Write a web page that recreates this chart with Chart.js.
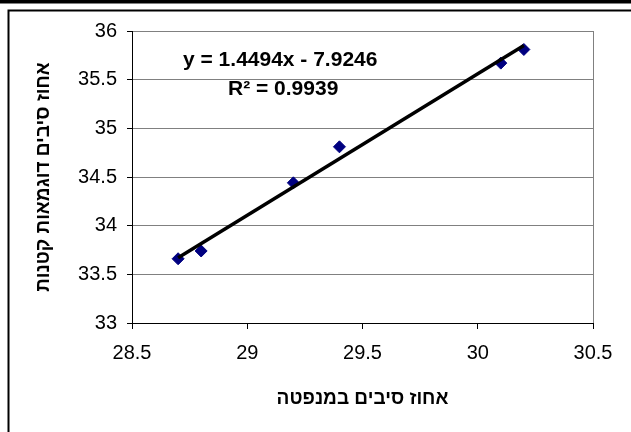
<!DOCTYPE html>
<html>
<head>
<meta charset="utf-8">
<script src="https://cdn.jsdelivr.net/npm/chart.js@4"></script>
<style>
  html, body { margin: 0; padding: 0; background: #fff; }
  canvas { display: block; }
</style>
</head>
<body>
<canvas id="fiberChart" width="631" height="432"></canvas>
<script>
// measured samples
const fiberLab = [28.7, 28.8, 29.2, 29.4, 30.1, 30.2];
const fiberSmall = [33.66, 33.74, 34.44, 34.81, 35.67, 35.81];

// trendline ends
const trendX = [28.7, 30.2];
const trendY = [33.67, 35.85];

const xTickLabels = ["28.5", "29", "29.5", "30", "30.5"];
const yTickLabels = ["33", "33.5", "34", "34.5", "35", "35.5", "36"];

const equationText = "y = 1.4494x - 7.9246";
const rSquaredText = "R² = 0.9939";
const xTitle = "אחוז סיבים במנפטה";
const yTitle = "אחוז סיבים דוגמאות קטנות";

const frame = {
    id: "frame",
    beforeDraw(chart) {
        const ctx = chart.ctx;
        ctx.save();
        ctx.fillStyle = "#fff";
        ctx.fillRect(0, 0, chart.width, chart.height);
        ctx.fillStyle = "#000";
        ctx.fillRect(0, 0, chart.width, 3.5);
        ctx.strokeStyle = "#000";
        ctx.lineWidth = 2;
        ctx.beginPath();
        ctx.moveTo(chart.width, 10.5);
        ctx.lineTo(8.5, 10.5);
        ctx.lineTo(8.5, chart.height);
        ctx.stroke();
        ctx.restore();
    },
    afterDatasetsDraw(chart) {
        const ctx = chart.ctx;
        const area = chart.chartArea;
        ctx.save();
        // right edge of plot area
        ctx.strokeStyle = "#808080";
        ctx.lineWidth = 1;
        ctx.beginPath();
        ctx.moveTo(area.right + 0.5, area.top);
        ctx.lineTo(area.right + 0.5, area.bottom);
        ctx.stroke();

        ctx.fillStyle = "#000";
        ctx.font = "bold 21px 'Liberation Sans', Arial, sans-serif";
        ctx.textBaseline = "middle";
        ctx.textAlign = "left";
        ctx.fillText(equationText, 183, 60);
        ctx.fillText(rSquaredText, 228, 89);
        ctx.restore();
    }
};

const ctx = document.getElementById("fiberChart").getContext("2d");

new Chart(ctx, {
    type: "scatter",
    data: {
        datasets: [{
            label: "data",
            data: fiberLab.map((x, i) => ({ x: x, y: fiberSmall[i] })),
            pointStyle: "rectRot",
            pointRadius: 6,
            backgroundColor: "#000080",
            borderColor: "#000080",
            borderWidth: 1,
            order: 1
        }, {
            label: "trend",
            data: trendX.map((x, i) => ({ x: x, y: trendY[i] })),
            showLine: true,
            pointRadius: 0,
            borderColor: "#000",
            borderWidth: 3.5,
            order: 0
        }]
    },
    options: {
        responsive: false,
        animation: false,
        layout: { padding: { left: 10, right: 38, top: 31, bottom: 0 } },
        plugins: {
            legend: { display: false },
            tooltip: { enabled: false }
        },
        scales: {
            x: {
                type: "linear",
                min: 28.5,
                max: 30.5,
                afterFit: s => { s.height = 109; },
                afterBuildTicks: s => { s.ticks = xTickLabels.map(v => ({ value: Number(v) })); },
                ticks: {
                    color: "#000",
                    padding: 12,
                    font: { family: "'Liberation Sans', Arial, sans-serif", size: 20 },
                    callback: (v, i) => xTickLabels[i]
                },
                grid: { drawOnChartArea: false, tickLength: 6, tickColor: "#000" },
                border: { color: "#000", width: 1 },
                title: {
                    display: true,
                    text: xTitle,
                    color: "#000",
                    font: { family: "'Liberation Sans', Arial, sans-serif", size: 19, weight: "bold" },
                    padding: { top: 0, bottom: 22 }
                }
            },
            y: {
                type: "linear",
                min: 33,
                max: 36,
                afterFit: s => { s.width = 122; },
                afterBuildTicks: s => { s.ticks = yTickLabels.map(v => ({ value: Number(v) })); },
                ticks: {
                    color: "#000",
                    padding: 10,
                    font: { family: "'Liberation Sans', Arial, sans-serif", size: 20 },
                    callback: (v, i) => yTickLabels[i]
                },
                grid: {
                    color: c => c.index === 0 ? "rgba(0,0,0,0)" : "#808080",
                    tickLength: 5,
                    tickColor: "#000"
                },
                border: { color: "#000", width: 1 },
                title: {
                    display: true,
                    text: yTitle,
                    color: "#000",
                    font: { family: "'Liberation Sans', Arial, sans-serif", size: 19, weight: "bold" },
                    padding: { top: 22, bottom: 0 }
                }
            }
        }
    },
    plugins: [frame]
});
</script>
</body>
</html>
